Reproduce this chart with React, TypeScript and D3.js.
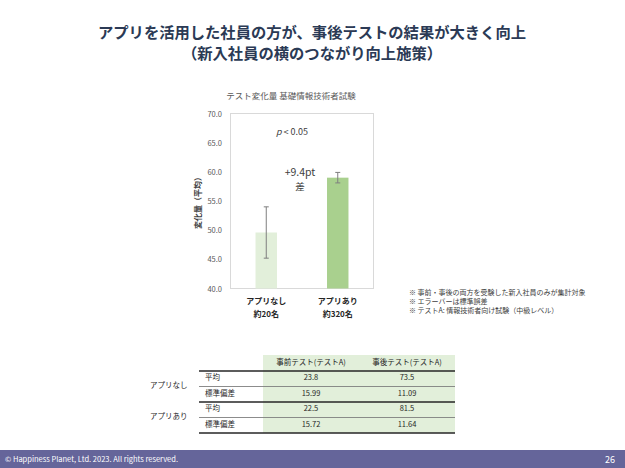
import React from "react";
import * as d3 from "d3";

// chart data
const categories = ["アプリなし", "アプリあり"];
const subLabels = ["約20名", "約320名"];
const means = [49.6, 59.0];
const stdErrors = [4.4, 0.9];
const barColors = ["#e2efda", "#a9d08e"];
const yTicks = [40, 45, 50, 55, 60, 65, 70];

// notes
const notes = [
  "※ 事前・事後の両方を受験した新入社員のみが集計対象",
  "※ エラーバーは標準誤差",
  "※ テストA: 情報技術者向け試験（中級レベル）",
];

// table data
const tableHeaders = ["事前テスト(テストA)", "事後テスト(テストA)"];
const groupLabels = ["アプリなし", "アプリあり"];
const rowLabels = ["平均", "標準偏差", "平均", "標準偏差"];
const preValues = ["23.8", "15.99", "22.5", "15.72"];
const postValues = ["73.5", "11.09", "81.5", "11.64"];

const FONT = "'Noto Sans CJK JP', 'Noto Sans', sans-serif";

const W = 625;
const H = 468;

const plot = { left: 230.5, right: 373.5, top: 113.5, bottom: 288.5 };

const App = () => {
  const x = d3
    .scaleBand<string>()
    .domain(categories)
    .range([plot.left, plot.right])
    .paddingInner(0.7)
    .paddingOuter(0.35);

  const y = d3.scaleLinear().domain([40, 70]).range([plot.bottom, plot.top]);

  // table layout
  const rowY = d3
    .scaleBand<number>()
    .domain(d3.range(rowLabels.length))
    .range([371, 433]);
  const colX = d3
    .scaleBand<number>()
    .domain([0, 1])
    .range([263, 455]);

  return (
    <svg
      width={W}
      height={H}
      style={{ position: "absolute", left: 0, top: 0, fontFamily: FONT }}
    >
      <rect x={0} y={0} width={W} height={H} fill="#ffffff" />

      {/* title */}
      <text
        x={312}
        y={38}
        textAnchor="middle"
        fontSize={15.3}
        fontWeight="bold"
        fill="#2b3a55"
      >
        アプリを活用した社員の方が、事後テストの結果が大きく向上
      </text>
      <text
        x={312}
        y={58.5}
        textAnchor="middle"
        fontSize={15.3}
        fontWeight="bold"
        fill="#2b3a55"
      >
        （新入社員の横のつながり向上施策）
      </text>

      {/* chart title */}
      <text x={291} y={99} textAnchor="middle" fontSize={8.5} fill="#595959">
        テスト変化量 基礎情報技術者試験
      </text>

      {/* plot frame */}
      <rect
        x={plot.left}
        y={plot.top}
        width={plot.right - plot.left}
        height={plot.bottom - plot.top}
        fill="none"
        stroke="#d9d9d9"
        strokeWidth={1}
      />

      {/* y ticks */}
      {yTicks.map((t) => (
        <text
          key={t}
          x={222}
          y={y(t) + 3}
          textAnchor="end"
          fontSize={7.5}
          fill="#595959"
        >
          {t.toFixed(1)}
        </text>
      ))}

      {/* y axis title */}
      <text
        transform={`translate(201, ${(plot.top + plot.bottom) / 2}) rotate(-90)`}
        textAnchor="middle"
        fontSize={8}
        fontWeight="bold"
        fill="#404040"
      >
        変化量（平均）
      </text>

      {/* bars */}
      {categories.map((c, i) => (
        <rect
          key={c}
          x={x(c)}
          y={y(means[i])}
          width={x.bandwidth()}
          height={y(40) - y(means[i])}
          fill={barColors[i]}
        />
      ))}

      {/* error bars */}
      {categories.map((c, i) => {
        const cx = (x(c) ?? 0) + x.bandwidth() / 2;
        const hi = y(means[i] + stdErrors[i]);
        const lo = y(means[i] - stdErrors[i]);
        return (
          <g key={c} stroke="#7f7f7f" strokeWidth={1}>
            <line x1={cx} x2={cx} y1={hi} y2={lo} />
            <line x1={cx - 2.5} x2={cx + 2.5} y1={hi} y2={hi} />
            <line x1={cx - 2.5} x2={cx + 2.5} y1={lo} y2={lo} />
          </g>
        );
      })}

      {/* annotations */}
      <text x={292} y={135} textAnchor="middle" fontSize={9} fill="#404040">
        <tspan fontStyle="italic">p</tspan> &lt; 0.05
      </text>
      <text x={300} y={176} textAnchor="middle" fontSize={10.5} fill="#404040">
        +9.4pt
      </text>
      <text x={300} y={189.5} textAnchor="middle" fontSize={9.5} fill="#404040">
        差
      </text>

      {/* category labels */}
      {categories.map((c, i) => {
        const cx = (x(c) ?? 0) + x.bandwidth() / 2;
        return (
          <g key={c}>
            <text
              x={cx}
              y={304}
              textAnchor="middle"
              fontSize={8}
              fontWeight="bold"
              fill="#262626"
            >
              {c}
            </text>
            <text
              x={cx}
              y={317}
              textAnchor="middle"
              fontSize={8}
              fontWeight="bold"
              fill="#262626"
            >
              {subLabels[i]}
            </text>
          </g>
        );
      })}

      {/* notes */}
      {notes.map((n, i) => (
        <text key={n} x={409} y={295 + i * 9} fontSize={7} fill="#404040">
          {n}
        </text>
      ))}

      {/* table */}
      <rect x={263} y={355} width={192} height={78} fill="#e2efda" />
      {tableHeaders.map((h, j) => (
        <text
          key={h}
          x={(colX(j) ?? 0) + colX.bandwidth() / 2}
          y={365}
          textAnchor="middle"
          fontSize={7.5}
          fill="#262626"
        >
          {h}
        </text>
      ))}
      {groupLabels.map((g, k) => (
        <text
          key={g}
          x={150}
          y={(rowY(k * 2 + 1) ?? 0) + 1.5}
          fontSize={7.5}
          fill="#262626"
        >
          {g}
        </text>
      ))}
      {rowLabels.map((r, i) => {
        const top = rowY(i) ?? 0;
        const mid = top + rowY.bandwidth() / 2 + 2.5;
        return (
          <g key={i}>
            <text x={205} y={mid - 1} fontSize={7.5} fill="#262626">
              {r}
            </text>
            <text
              x={(colX(0) ?? 0) + colX.bandwidth() / 2}
              y={mid - 1}
              textAnchor="middle"
              fontSize={7.5}
              fill="#262626"
            >
              {preValues[i]}
            </text>
            <text
              x={(colX(1) ?? 0) + colX.bandwidth() / 2}
              y={mid - 1}
              textAnchor="middle"
              fontSize={7.5}
              fill="#262626"
            >
              {postValues[i]}
            </text>
          </g>
        );
      })}
      {d3.range(rowLabels.length + 1).map((i) => {
        const yy = i < rowLabels.length ? rowY(i) ?? 0 : 433;
        const thick = i % 2 === 0;
        return (
          <line
            key={i}
            x1={199}
            x2={455}
            y1={yy}
            y2={yy}
            stroke={thick ? "#262626" : "#7f7f7f"}
            strokeWidth={thick ? 1.3 : 0.9}
          />
        );
      })}

      {/* footer */}
      <rect x={0} y={450} width={W} height={18} fill="#65659a" />
      <text x={5} y={462} fontSize={7.5} fill="#ffffff">
        © Happiness Planet, Ltd. 2023. All rights reserved.
      </text>
      <text x={615} y={463} textAnchor="end" fontSize={9} fill="#ffffff">
        26
      </text>
    </svg>
  );
};

export default App;
